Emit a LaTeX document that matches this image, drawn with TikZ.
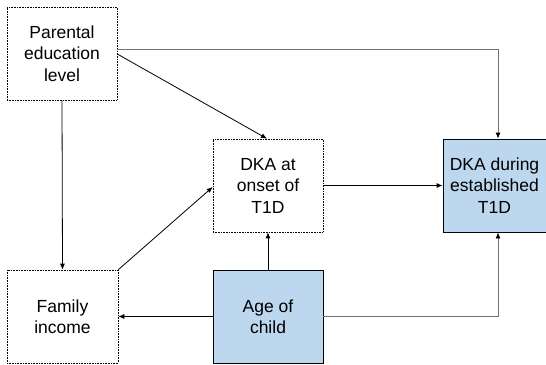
\documentclass[tikz,border=0pt]{standalone}
\usepackage{fontspec}
\setmainfont{Liberation Sans}
\usetikzlibrary{arrows.meta}
\definecolor{boxblue}{HTML}{BDD7EE}
\tikzset{
  box/.style={draw=black, minimum width=110pt, minimum height=93pt, inner sep=2pt,
    align=center, font=\fontsize{17.5}{21.5}\selectfont},
  dotbox/.style={box, densely dotted, line width=0.6pt},
  bluebox/.style={box, fill=boxblue, line width=0.8pt},
  link/.style={draw=black, line width=0.8pt, -{Latex[length=6pt,width=5pt]}},
  greylink/.style={draw=black!55, line width=0.8pt, arrows={-{Latex[length=6pt,width=5pt,color=black]}}}
}
\begin{document}
\begin{tikzpicture}[x=1pt,y=-1pt]
  \useasboundingbox (0,0) rectangle (546,364);
  % boxes
  \node[dotbox] (P) at (62,53.5) {Parental\\education\\level};
  \node[dotbox] (O) at (268,185.5) {DKA at\\onset of\\T1D};
  \node[bluebox, minimum width=103pt] (D) at (494.5,185.5) {DKA during\\established\\T1D};
  \node[dotbox, minimum width=111pt] (F) at (62.5,316.5) {Family\\income};
  \node[bluebox] (A) at (268,316.5) {Age of\\child};
  % connectors
  \draw[greylink] ([yshift=4.5pt]P.east) -| ([xshift=3.5pt]D.north);
  \draw[link] ([yshift=-0.5pt]P.east) -- ([xshift=-1pt]O.north);
  \draw[link] (P.south) -- (F.north);
  \draw[link] (F.north east) -- ([yshift=-1.5pt]O.west);
  \draw[link] (O.east) -- (D.west);
  \draw[link] (A.north) -- (O.south);
  \draw[link] (A.west) -- (F.east);
  \draw[greylink] (A.east) -| ([xshift=3.5pt]D.south);
\end{tikzpicture}
\end{document}
